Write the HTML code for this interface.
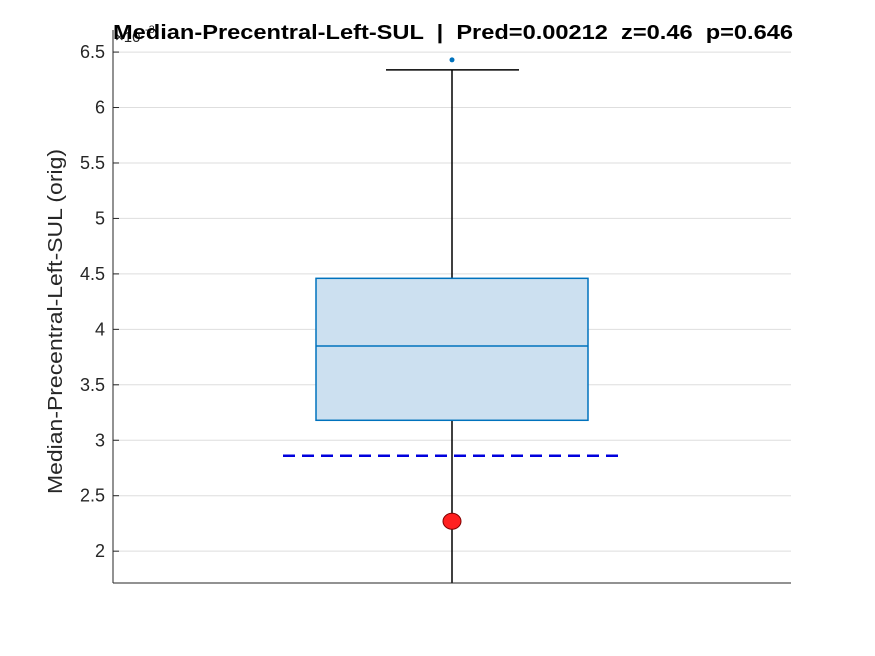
<!DOCTYPE html>
<html><head><meta charset="utf-8"><style>
body{margin:0;background:#fff;}
svg{display:block;font-family:"Liberation Sans",sans-serif;}
</style></head><body>
<svg id="chart" width="875" height="656"></svg>
<script>
const yTicks=[2,2.5,3,3.5,4,4.5,5,5.5,6,6.5];
const yTickLabels=["2","2.5","3","3.5","4","4.5","5","5.5","6","6.5"];
const boxStats=[3.18,3.85,4.46];
const whiskers=[1.0,6.34];
const outliers=[6.43];
const predValue=[2.27];
const refLine=[2.86];
const NS="http://www.w3.org/2000/svg";
const svg=document.getElementById('chart');
const L=113,R=791,T=30,B=583,ymin=1.713,ymax=6.699;
function y(v){return B-(v-ymin)/(ymax-ymin)*(B-T);}
function add(tag,attrs,parent){const e=document.createElementNS(NS,tag);for(const k in attrs)e.setAttribute(k,attrs[k]);(parent||svg).appendChild(e);return e;}
const g=add('g',{});


yTicks.forEach((t,i)=>{
  const l=add('line',{x1:L,x2:R,y1:y(t),y2:y(t),stroke:'#dedede','stroke-width':1},g);
  
  
  const tk=add('line',{x1:L,x2:L+6,y1:y(t),y2:y(t),stroke:'#262626'});
  
  
  const tx=add('text',{x:L-8,y:y(t)+6,'text-anchor':'end','font-size':18,fill:'#262626'});
  tx.textContent=yTickLabels[i];
  
  
});
const cx=452;
const w1=add('line',{x1:cx,x2:cx,y1:y(boxStats[2]),y2:y(whiskers[1]),stroke:'#000','stroke-width':1.5});


const w2=add('line',{x1:cx,x2:cx,y1:y(boxStats[0]),y2:Math.min(B,y(whiskers[0])),stroke:'#000','stroke-width':1.5});


const cap=add('line',{x1:386,x2:519,y1:y(whiskers[1]),y2:y(whiskers[1]),stroke:'#000','stroke-width':1.5});


const box=add('rect',{x:316,y:y(boxStats[2]),width:272,height:y(boxStats[0])-y(boxStats[2]),fill:'#cce0f0',stroke:'#0072bd','stroke-width':1.5});


const med=add('line',{x1:316,x2:588,y1:y(boxStats[1]),y2:y(boxStats[1]),stroke:'#0072bd','stroke-width':1.5});


outliers.forEach(o=>{const c=add('circle',{cx:cx,cy:y(o),r:2.5,fill:'#0072bd'});

});
refLine.forEach(r=>{const d=add('line',{x1:283,x2:622,y1:y(r),y2:y(r),stroke:'#0000dd','stroke-width':2.5,'stroke-dasharray':'12,7'});

});
predValue.forEach(p=>{const c=add('ellipse',{cx:cx,cy:y(p),rx:9,ry:8,fill:'#ff2020',stroke:'#800000','stroke-width':1});

});
const ax=add('line',{x1:L,x2:L,y1:T,y2:B,stroke:'#262626','stroke-width':1});


const bx=add('line',{x1:L,x2:R,y1:B,y2:B,stroke:'#262626','stroke-width':1});


const ex=add('text',{x:115,y:42,'font-size':15,fill:'#262626'});
ex.textContent='×10';


const ex2=add('text',{x:145,y:33,'font-size':11,fill:'#262626'});
ex2.textContent='-3';


const title=add('text',{x:113,y:39,'font-size':20,'font-weight':'bold',fill:'#000',textLength:680,lengthAdjust:'spacingAndGlyphs'});
title.textContent='Median-Precentral-Left-SUL  |  Pred=0.00212  z=0.46  p=0.646';
title.style.whiteSpace='pre';


const yl=add('text',{x:-172,y:0,'font-size':20,fill:'#262626',textLength:345,lengthAdjust:'spacingAndGlyphs',transform:'translate(62,322) rotate(-90)'});
yl.textContent='Median-Precentral-Left-SUL (orig)';


</script>
</body></html>
